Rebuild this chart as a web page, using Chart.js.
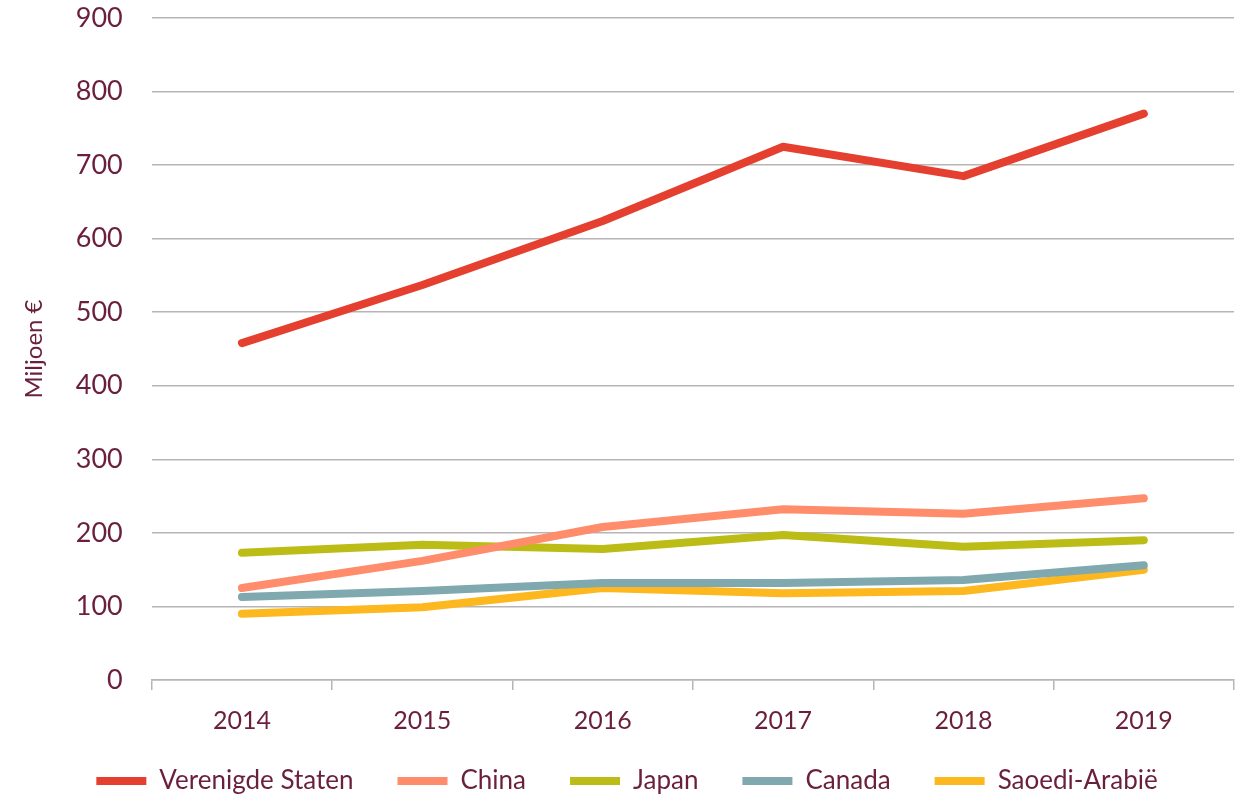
<!DOCTYPE html>
<html>
<head>
<meta charset="utf-8">
<script src="https://cdn.jsdelivr.net/npm/chart.js@4"></script>
<style>
  html, body { margin: 0; padding: 0; background: #fff; }
  #wrap { width: 1248px; height: 797px; }
</style>
</head>
<body>
<div id="wrap"><canvas id="chart"></canvas></div>
<script>
// Data
const years = ['2014', '2015', '2016', '2017', '2018', '2019'];
const verenigdeStaten = [458, 537, 624, 725, 685, 770];
const china = [125, 162, 208, 232, 226, 247];
const japan = [173, 184, 178, 197, 181, 190];
const canada = [113, 121, 132, 132, 136, 156];
const saoediArabie = [90, 99, 125, 118, 121, 150];

const textColor = '#6a1f3d';
const gridColor = '#b5b5b5';
const font = 'Lato, "Noto Sans", sans-serif';

const series = [
  { label: 'Verenigde Staten', data: verenigdeStaten, color: '#e5402f' },
  { label: 'China', data: china, color: '#ff8c6a' },
  { label: 'Japan', data: japan, color: '#bbbd16' },
  { label: 'Canada', data: canada, color: '#7fa8af' },
  { label: 'Saoedi-Arabië', data: saoediArabie, color: '#fdb71f' }
];

// legend sits tighter under the axis labels than chart.js allows by default
const legendTighten = {
  id: 'legendTighten',
  beforeInit(chart) {
    const lg = chart.legend;
    if (!lg) return;
    const fit = lg.fit.bind(lg);
    lg.fit = function () {
      fit();
      this.height -= 21;
    };
  },
  afterLayout(chart) {
    const lg = chart.legend;
    if (!lg) return;
    lg.top -= 12;
  }
};

new Chart(document.getElementById('chart'), {
  type: 'line',
  data: {
    labels: years,
    datasets: series.map(s => ({
      label: s.label,
      data: s.data,
      borderColor: s.color,
      backgroundColor: s.color,
      borderWidth: 8,
      borderCapStyle: 'round',
      borderJoinStyle: 'round',
      pointRadius: 0,
      tension: 0
    }))
  },
  options: {
    responsive: true,
    maintainAspectRatio: false,
    animation: false,
    layout: { padding: { left: 20, right: 14, top: 18, bottom: 2 } },
    plugins: {
      legend: {
        position: 'bottom',
        labels: {
          color: textColor,
          font: { family: font, size: 26 },
          usePointStyle: true,
          pointStyle: 'line',
          pointStyleWidth: 50,
          padding: 44
        }
      },
      tooltip: { enabled: false }
    },
    scales: {
      y: {
        min: 0,
        max: 900,
        ticks: {
          stepSize: 100,
          color: textColor,
          font: { family: font, size: 27 },
          padding: 0
        },
        grid: {
          color: gridColor,
          lineWidth: 1.5,
          drawTicks: true,
          tickLength: 29,
          tickColor: 'rgba(0,0,0,0)'
        },
        border: { display: false },
        title: {
          display: true,
          text: 'Miljoen €',
          color: textColor,
          font: { family: font, size: 24 },
          padding: { top: 0, bottom: 27 }
        }
      },
      x: {
        offset: true,
        ticks: {
          color: textColor,
          font: { family: font, size: 25 },
          padding: 16
        },
        grid: {
          offset: true,
          drawOnChartArea: false,
          color: gridColor,
          lineWidth: 1.5,
          tickLength: 10
        },
        border: { display: true, color: gridColor, width: 1.5 },
        afterFit(scale) { scale.height = 56; }
      }
    }
  },
  plugins: [legendTighten]
});
</script>
</body>
</html>
